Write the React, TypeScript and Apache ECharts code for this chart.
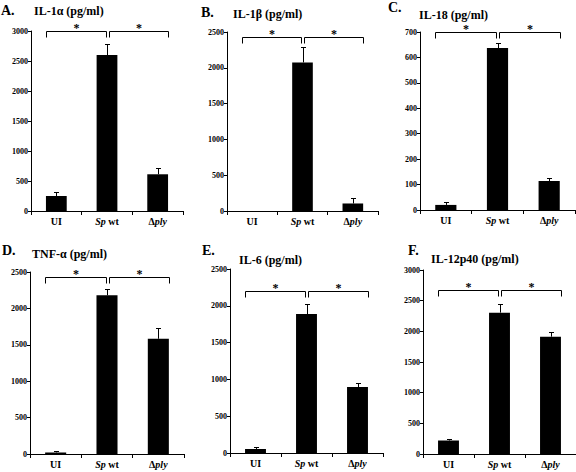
import React, { useEffect, useRef } from 'react';
import * as echarts from 'echarts';

// ---- data ----
const categories = ['UI', 'Sp wt', 'Δply'];
const panelLetters = ['A.', 'B.', 'C.', 'D.', 'E.', 'F.'];
const panelTitles = ['IL-1α (pg/ml)', 'IL-1β (pg/ml)', 'IL-18 (pg/ml)', 'TNF-α (pg/ml)', 'IL-6 (pg/ml)', 'IL-12p40 (pg/ml)'];

const il1aMeans = [250, 2600, 612];
const il1aErrors = [75, 190, 105];
const il1bMeans = [0, 2075, 105];
const il1bErrors = [0, 210, 70];
const il18Means = [20, 637, 114];
const il18Errors = [13, 19, 13];
const tnfaMeans = [22, 2180, 1583];
const tnfaErrors = [23, 87, 150];
const il6Means = [55, 1887, 896];
const il6Errors = [23, 136, 58];
const il12Means = [220, 2305, 1913];
const il12Errors = [25, 136, 81];

const yMaxima = [3000, 2500, 700, 2500, 2500, 3000];
const yIntervals = [500, 500, 100, 500, 500, 500];
const bracketLevels = [2995, 2430, 700, 2431, 2204, 2678];
const comparisons = [[0, 1], [1, 2]];
const significanceMark = '*';

const allMeans = [il1aMeans, il1bMeans, il18Means, tnfaMeans, il6Means, il12Means];
const allErrors = [il1aErrors, il1bErrors, il18Errors, tnfaErrors, il6Errors, il12Errors];

// ---- layout ----
const grids = [
  { left: 31, top: 31, width: 152, height: 180 },
  { left: 227, top: 32, width: 151, height: 179 },
  { left: 420, top: 32, width: 155, height: 178 },
  { left: 30, top: 272, width: 154, height: 182 },
  { left: 230, top: 269, width: 153, height: 184 },
  { left: 423, top: 270, width: 153, height: 184 },
];
const letterPos = [[1, 10], [201, 12], [388, 7], [2, 250], [202, 250], [408, 250]];
const titlePos = [[34, 11], [233, 14], [419, 15], [32, 254], [239, 260], [431, 259]];

const FONT = '"Liberation Serif", "Times New Roman", serif';
const BAR_FRAC = 0.41;
const BLACK = '#000000';

const crisp = (v: number) => Math.round(v) + 0.5;

function labelMarkup(v: string) {
  if (v === 'Sp wt') return '{i|Sp} wt';
  if (v.startsWith('Δ')) return 'Δ{i|' + v.slice(1) + '}';
  return v;
}

export default function App() {
  const ref = useRef<HTMLDivElement>(null);
  useEffect(() => {
    document.body.style.margin = '0';
    if (!ref.current) return;
    const chart = echarts.init(ref.current, null, { renderer: 'svg' });

    const xAxis: any[] = [];
    const yAxis: any[] = [];
    const series: any[] = [];
    const graphic: any[] = [];

    grids.forEach((g, i) => {
      xAxis.push({
        type: 'category',
        gridIndex: i,
        data: categories,
        axisLine: { lineStyle: { color: BLACK, width: 1 } },
        axisTick: { show: true, length: 4, lineStyle: { color: BLACK } },
        axisLabel: {
          formatter: labelMarkup,
          color: BLACK,
          fontSize: 10,
          fontWeight: 'bold',
          fontFamily: FONT,
          margin: 5,
          rich: { i: { fontStyle: 'italic', fontWeight: 'bold', fontSize: 10, fontFamily: FONT, color: BLACK } },
        },
      });
      yAxis.push({
        type: 'value',
        gridIndex: i,
        min: 0,
        max: yMaxima[i],
        interval: yIntervals[i],
        splitLine: { show: false },
        axisLine: { show: true, lineStyle: { color: BLACK, width: 1 } },
        axisTick: { show: true, length: 3, lineStyle: { color: BLACK } },
        axisLabel: {
          formatter: (v: number) => String(v),
          color: BLACK,
          fontSize: 8,
          fontWeight: 'bold',
          fontFamily: FONT,
          margin: 3,
        },
      });
      series.push({
        type: 'bar',
        xAxisIndex: i,
        yAxisIndex: i,
        data: allMeans[i],
        barWidth: BAR_FRAC * 100 + '%',
        itemStyle: { color: BLACK },
        emphasis: { disabled: true },
      });
      series.push({
        type: 'custom',
        xAxisIndex: i,
        yAxisIndex: i,
        data: allMeans[i].map((m, k) => [k, m, allErrors[i][k]]),
        encode: { x: 0, y: 1 },
        itemStyle: { color: BLACK },
        emphasis: { disabled: true },
        z: 3,
        renderItem: (params: any, api: any) => {
          const x = api.value(0);
          const v = api.value(1);
          const e = api.value(2);
          if (!e) return null;
          const p0 = api.coord([x, v]);
          const p1 = api.coord([x, v + e]);
          const cx = crisp(p0[0]);
          const ty = crisp(p1[1]);
          return {
            type: 'group',
            children: [
              { type: 'line', shape: { x1: cx, y1: p0[1], x2: cx, y2: ty }, style: { stroke: BLACK, lineWidth: 1 } },
              { type: 'line', shape: { x1: cx - 2.5, y1: ty, x2: cx + 2.5, y2: ty }, style: { stroke: BLACK, lineWidth: 1 } },
            ],
          };
        },
      });
      series.push({
        type: 'custom',
        xAxisIndex: i,
        yAxisIndex: i,
        data: comparisons.map(([a, b]) => [a, b, bracketLevels[i]]),
        encode: { x: [0, 1], y: 2 },
        itemStyle: { color: BLACK },
        emphasis: { disabled: true },
        z: 4,
        renderItem: (params: any, api: any) => {
          const a = api.value(0);
          const b = api.value(1);
          const lvl = api.value(2);
          const pa = api.coord([a, lvl]);
          const pb = api.coord([b, lvl]);
          const band = api.size([1, 0])[0];
          const half = (band * BAR_FRAC) / 2;
          const x1 = crisp(a === 0 ? pa[0] - half : pa[0] + 1.5);
          const x2 = crisp(b === categories.length - 1 ? pb[0] + half : pb[0] - 1.5);
          const y = crisp(pa[1]);
          return {
            type: 'group',
            children: [
              { type: 'line', shape: { x1: x1, y1: y + 6, x2: x1, y2: y }, style: { stroke: BLACK, lineWidth: 1 } },
              { type: 'line', shape: { x1: x1, y1: y, x2: x2, y2: y }, style: { stroke: BLACK, lineWidth: 1 } },
              { type: 'line', shape: { x1: x2, y1: y, x2: x2, y2: y + 6 }, style: { stroke: BLACK, lineWidth: 1 } },
              {
                type: 'text',
                style: {
                  text: significanceMark,
                  x: (x1 + x2) / 2,
                  y: y - 4,
                  align: 'center',
                  verticalAlign: 'middle',
                  fontSize: 12,
                  fontWeight: 'bold',
                  fontFamily: FONT,
                  fill: BLACK,
                },
              },
            ],
          };
        },
      });
      graphic.push({
        type: 'text',
        left: letterPos[i][0],
        top: letterPos[i][1] - 7,
        style: { text: panelLetters[i], fontSize: 14, fontWeight: 'bold', fontFamily: FONT, fill: BLACK },
      });
      graphic.push({
        type: 'text',
        left: titlePos[i][0],
        top: titlePos[i][1] - 6,
        style: { text: panelTitles[i], fontSize: 12, fontWeight: 'bold', fontFamily: FONT, fill: BLACK },
      });
    });

    chart.setOption({
      animation: false,
      backgroundColor: '#fff',
      grid: grids.map((g) => ({ ...g, containLabel: false })),
      xAxis,
      yAxis,
      series,
      graphic,
    });
    return () => chart.dispose();
  }, []);
  return <div ref={ref} style={{ width: 576, height: 472 }} />;
}
